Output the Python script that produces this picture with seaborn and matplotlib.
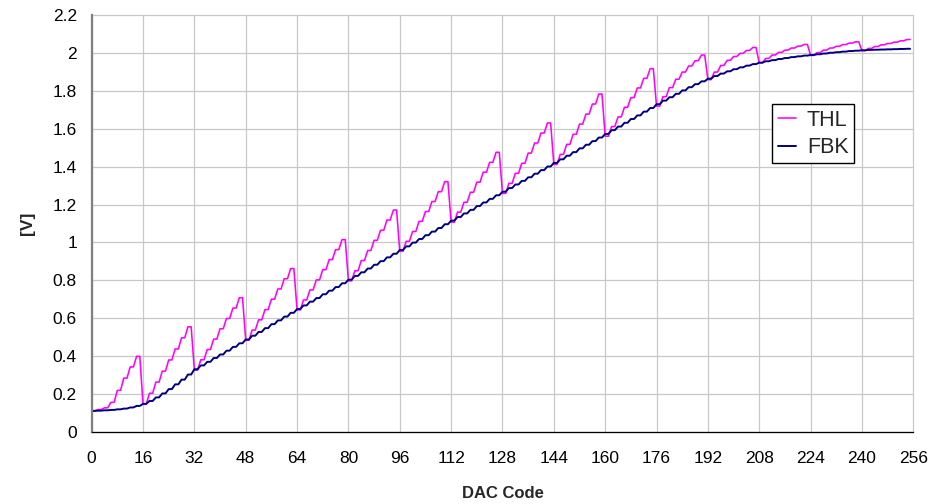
import matplotlib
matplotlib.use("Agg")
import matplotlib.pyplot as plt
import pandas as pd
import seaborn as sns

# DAC codes 0..255
codes = list(range(256))

# THL output voltage [V], one row per 16-code segment
thl = [
    0.110, 0.110, 0.117, 0.117, 0.126, 0.126, 0.155, 0.155, 0.218, 0.218, 0.283, 0.283, 0.342, 0.342, 0.398, 0.398,
    0.145, 0.145, 0.203, 0.203, 0.262, 0.262, 0.320, 0.320, 0.379, 0.379, 0.437, 0.437, 0.496, 0.496, 0.554, 0.554,
    0.325, 0.325, 0.380, 0.380, 0.434, 0.434, 0.489, 0.489, 0.544, 0.544, 0.598, 0.598, 0.653, 0.653, 0.708, 0.708,
    0.483, 0.483, 0.537, 0.537, 0.591, 0.591, 0.645, 0.645, 0.700, 0.700, 0.754, 0.754, 0.808, 0.808, 0.862, 0.862,
    0.643, 0.643, 0.696, 0.696, 0.749, 0.749, 0.802, 0.802, 0.856, 0.856, 0.909, 0.909, 0.962, 0.962, 1.015, 1.015,
    0.797, 0.797, 0.850, 0.850, 0.904, 0.904, 0.957, 0.957, 1.011, 1.011, 1.064, 1.064, 1.118, 1.118, 1.171, 1.171,
    0.953, 0.953, 1.006, 1.006, 1.058, 1.058, 1.111, 1.111, 1.163, 1.163, 1.216, 1.216, 1.268, 1.268, 1.321, 1.321,
    1.107, 1.107, 1.160, 1.160, 1.212, 1.212, 1.265, 1.265, 1.318, 1.318, 1.371, 1.371, 1.423, 1.423, 1.476, 1.476,
    1.259, 1.259, 1.312, 1.312, 1.365, 1.365, 1.418, 1.418, 1.472, 1.472, 1.525, 1.525, 1.578, 1.578, 1.631, 1.631,
    1.412, 1.412, 1.465, 1.465, 1.518, 1.518, 1.571, 1.571, 1.625, 1.625, 1.678, 1.678, 1.731, 1.731, 1.784, 1.784,
    1.561, 1.561, 1.612, 1.612, 1.663, 1.663, 1.714, 1.714, 1.765, 1.765, 1.816, 1.816, 1.867, 1.867, 1.918, 1.918,
    1.720, 1.720, 1.770, 1.770, 1.818, 1.818, 1.862, 1.862, 1.900, 1.900, 1.932, 1.932, 1.960, 1.960, 1.990, 1.990,
    1.860, 1.860, 1.900, 1.900, 1.935, 1.935, 1.962, 1.962, 1.982, 1.982, 1.999, 1.999, 2.014, 2.014, 2.030, 2.030,
    1.948, 1.948, 1.972, 1.972, 1.990, 1.990, 2.004, 2.004, 2.016, 2.016, 2.027, 2.027, 2.037, 2.037, 2.046, 2.046,
    1.988, 1.988, 2.003, 2.003, 2.016, 2.016, 2.027, 2.027, 2.036, 2.036, 2.045, 2.045, 2.053, 2.053, 2.060, 2.060,
    2.013, 2.013, 2.025, 2.025, 2.035, 2.035, 2.044, 2.044, 2.051, 2.051, 2.058, 2.058, 2.065, 2.065, 2.072, 2.072,
]

# FBK output voltage [V]
fbk = [
    0.110, 0.110, 0.111, 0.111, 0.113, 0.113, 0.115, 0.115, 0.118, 0.118, 0.122, 0.122, 0.128, 0.128, 0.136, 0.136,
    0.147, 0.147, 0.162, 0.162, 0.181, 0.181, 0.202, 0.202, 0.225, 0.225, 0.250, 0.250, 0.275, 0.275, 0.302, 0.302,
    0.330, 0.330, 0.350, 0.350, 0.369, 0.369, 0.389, 0.389, 0.408, 0.408, 0.428, 0.428, 0.448, 0.448, 0.467, 0.467,
    0.487, 0.487, 0.507, 0.507, 0.527, 0.527, 0.547, 0.547, 0.568, 0.568, 0.588, 0.588, 0.608, 0.608, 0.628, 0.628,
    0.648, 0.648, 0.667, 0.667, 0.687, 0.687, 0.706, 0.706, 0.726, 0.726, 0.745, 0.745, 0.764, 0.764, 0.784, 0.784,
    0.803, 0.803, 0.823, 0.823, 0.842, 0.842, 0.862, 0.862, 0.882, 0.882, 0.901, 0.901, 0.921, 0.921, 0.940, 0.940,
    0.960, 0.960, 0.979, 0.979, 0.999, 0.999, 1.018, 1.018, 1.038, 1.038, 1.057, 1.057, 1.076, 1.076, 1.096, 1.096,
    1.115, 1.115, 1.134, 1.134, 1.153, 1.153, 1.172, 1.172, 1.192, 1.192, 1.211, 1.211, 1.230, 1.230, 1.249, 1.249,
    1.268, 1.268, 1.287, 1.287, 1.306, 1.306, 1.325, 1.325, 1.344, 1.344, 1.363, 1.363, 1.382, 1.382, 1.401, 1.401,
    1.420, 1.420, 1.439, 1.439, 1.458, 1.458, 1.477, 1.477, 1.497, 1.497, 1.516, 1.516, 1.535, 1.535, 1.554, 1.554,
    1.573, 1.573, 1.593, 1.593, 1.612, 1.612, 1.632, 1.632, 1.652, 1.652, 1.671, 1.671, 1.691, 1.691, 1.710, 1.710,
    1.730, 1.730, 1.749, 1.749, 1.767, 1.767, 1.785, 1.785, 1.803, 1.803, 1.820, 1.820, 1.836, 1.836, 1.851, 1.851,
    1.865, 1.865, 1.879, 1.879, 1.892, 1.892, 1.904, 1.904, 1.915, 1.915, 1.925, 1.925, 1.934, 1.934, 1.942, 1.942,
    1.950, 1.950, 1.957, 1.957, 1.963, 1.963, 1.969, 1.969, 1.974, 1.974, 1.979, 1.979, 1.983, 1.983, 1.987, 1.987,
    1.990, 1.990, 1.994, 1.994, 1.998, 1.998, 2.002, 2.002, 2.005, 2.005, 2.008, 2.008, 2.011, 2.011, 2.013, 2.013,
    2.015, 2.015, 2.017, 2.017, 2.018, 2.018, 2.019, 2.019, 2.020, 2.020, 2.021, 2.021, 2.022, 2.022, 2.023, 2.023,
]

series_names = ["THL", "FBK"]
series_colors = ["#FF00FF", "#000080"]
series_widths = [1.15, 1.4]

x_ticks = [0, 16, 32, 48, 64, 80, 96, 112, 128, 144, 160, 176, 192, 208, 224, 240, 256]
y_ticks = [0.0, 0.2, 0.4, 0.6, 0.8, 1.0, 1.2, 1.4, 1.6, 1.8, 2.0, 2.2]
y_tick_labels = ["0", "0.2", "0.4", "0.6", "0.8", "1", "1.2", "1.4", "1.6", "1.8", "2", "2.2"]
x_label = "DAC Code"
y_label = "[V]"

sns.set_style("white")
plt.rcParams["font.family"] = ["Liberation Sans", "DejaVu Sans"]

df = pd.DataFrame({
    "code": codes + codes,
    "V": thl + fbk,
    "series": [series_names[0]] * len(codes) + [series_names[1]] * len(codes),
})

fig = plt.figure(figsize=(9.48, 5.04), dpi=100)
fig.patch.set_facecolor("white")
ax = fig.add_axes([0.0967, 0.1435, 0.8667, 0.8262])

sns.lineplot(data=df, x="code", y="V", hue="series", hue_order=series_names,
             palette=dict(zip(series_names, series_colors)), estimator=None,
             sort=False, legend=False, ax=ax)
for line, w in zip(ax.lines, series_widths):
    line.set_linewidth(w)

ax.set_xlim(0, 256)
ax.set_ylim(0, 2.2)
ax.set_xticks(x_ticks)
ax.set_xticklabels([str(t) for t in x_ticks])
ax.set_yticks(y_ticks)
ax.set_yticklabels(y_tick_labels)

ax.set_axisbelow(True)
ax.grid(True, color="#c8c8c8", linewidth=0.9)
for gl in ax.get_xgridlines() + ax.get_ygridlines():
    gl.set_clip_on(False)

for s in ["top", "right"]:
    ax.spines[s].set_visible(False)
ax.spines["left"].set_color("#808080")
ax.spines["left"].set_linewidth(1.6)
ax.spines["bottom"].set_color("black")
ax.spines["bottom"].set_linewidth(0.9)

ax.tick_params(axis="both", direction="out", length=3.6, width=0.8, color="black",
               labelsize=12.5, labelcolor="black")
ax.tick_params(axis="x", pad=10.5)
ax.tick_params(axis="y", pad=7)

ax.set_xlabel(x_label, fontsize=12, fontweight="bold")
ax.set_ylabel(y_label, fontsize=12.5, fontweight="bold")
ax.xaxis.set_label_coords(0.5, -0.1475)
ax.xaxis.label.set_verticalalignment("center")
ax.yaxis.set_label_coords(-0.0775, 0.5)
ax.yaxis.label.set_verticalalignment("center")

handles = [plt.Line2D([], [], color=c, lw=w) for c, w in zip(series_colors, series_widths)]
leg = ax.legend(handles, series_names, loc="upper left", bbox_to_anchor=(0.8284, 0.7863),
                borderaxespad=0, frameon=True, fancybox=False, shadow=False,
                fontsize=15.5, handlelength=0.85, handletextpad=0.5, borderpad=0.25,
                labelspacing=0.3)
leg.get_frame().set_edgecolor("black")
leg.get_frame().set_linewidth(1.0)
leg.get_frame().set_facecolor("white")
leg.get_frame().set_alpha(1)

fig.savefig("out.png", dpi=100, facecolor="white")
